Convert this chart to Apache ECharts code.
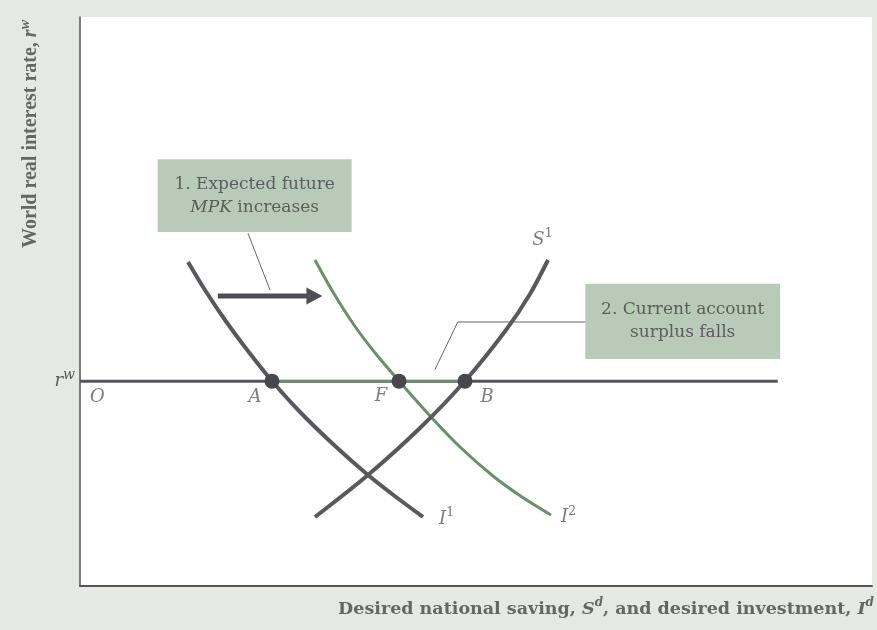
<!DOCTYPE html>
<html>
<head>
<meta charset="utf-8">
<script src="https://cdn.jsdelivr.net/npm/echarts@6/dist/echarts.min.js"></script>
<style>html,body{margin:0;padding:0;background:#e6e8e3;}#c{width:877px;height:630px;}</style>
</head>
<body>
<div id="c"></div>
<script>
// ---- data (abstract units: x 0..100, y 0..100) ----
const rwLevel = 36.0;
const rwLineX = [0, 88.1];
const surplusX = [24.24, 48.61];
const i1X = [13.64, 15.78, 18.31, 21.21, 24.24, 27.78, 32.07, 36.36, 39.90, 43.31];
const i1Y = [56.94, 52.02, 46.75, 41.30, 36.03, 30.58, 24.78, 19.51, 15.64, 12.13];
const i2X = [29.67, 31.94, 34.60, 37.37, 40.28, 44.44, 47.98, 52.15, 55.81, 59.47];
const i2Y = [57.29, 51.67, 45.87, 40.77, 36.03, 29.53, 24.43, 19.33, 15.64, 12.48];
const s1X = [29.67, 36.36, 42.93, 48.61, 53.79, 56.82, 59.09];
const s1Y = [12.13, 19.51, 27.77, 36.03, 44.99, 51.32, 57.29];
const pointNames = ['A', 'F', 'B'];
const pointX = [24.24, 40.28, 48.61];
const letterNames = ['O', 'A', 'F', 'B'];
const letterX = [2.2, 22.1, 38.0, 51.4];
const letterY = [33.2, 33.2, 33.4, 33.2];
const curveLabels = ['S', 'I', 'I'];
const curveSup = ['1', '1', '2'];
const curveLabelX = [58.4, 46.3, 61.7];
const curveLabelY = [60.8, 11.8, 12.0];
const arrowShaftX = [17.4, 28.66];
const arrowHeadX = 29.6;
const arrowY = 50.97;
const leader1X = [21.2, 24.0];
const leader1Y = [62.0, 52.0];
const leader2X = [63.8, 47.7, 44.8];
const leader2Y = [46.4, 46.4, 38.0];
const box1 = [[9.8, 75.0], [34.3, 62.2]];
const box2 = [[63.8, 53.1], [88.4, 39.9]];
const box1Text = ['1. Expected future', 'MPK', ' increases'];
const box2Text = ['2. Current account', 'surplus falls'];
const xTitle = ['Desired national saving, ', 'S', 'd', ', and desired investment, ', 'I', 'd'];
const yTitle = ['World real interest rate, ', 'r', 'w'];

const SERIF = '"DejaVu Serif", "Liberation Serif", serif';
const SERIF2 = '"Liberation Serif", "DejaVu Serif", serif';
const DARK = '#5a585e';
const GREEN = '#6a906a';
const TXT = '#5c5c5c';
const TITLE = '#666666';
const BOXC = '#b9cbb8';

const zip = (xs, ys) => xs.map((x, i) => [x, ys[i]]);

const chart = echarts.init(document.getElementById('c'), null, {renderer: 'canvas'});

const supRich = {
  i: {fontFamily: SERIF, fontStyle: 'italic', fontSize: 18, color: TXT, lineHeight: 26},
  s: {fontFamily: SERIF, fontSize: 13, color: TXT, verticalAlign: 'top', lineHeight: 14}
};

const option = {
  backgroundColor: '#e6e8e3',
  animation: false,
  grid: {left: 80, top: 17, right: 5, bottom: 44, show: true, backgroundColor: '#ffffff', borderWidth: 0},
  xAxis: {
    type: 'value', min: 0, max: 100,
    axisLine: {show: true, lineStyle: {color: '#555', width: 2}},
    axisTick: {show: false}, axisLabel: {show: false}, splitLine: {show: false}
  },
  yAxis: {
    type: 'value', min: 0, max: 100,
    axisLine: {show: true, lineStyle: {color: '#555', width: 1.5}},
    axisTick: {show: false}, splitLine: {show: false},
    axisLabel: {
      show: true, customValues: [rwLevel], margin: 5,
      formatter: () => '{i|r}{s|w}',
      rich: {
        i: {fontFamily: SERIF, fontStyle: 'italic', fontSize: 18, color: TXT, lineHeight: 26},
        s: {fontFamily: SERIF, fontStyle: 'italic', fontSize: 14, color: TXT, verticalAlign: 'top', lineHeight: 14}
      }
    }
  },
  graphic: [
    {
      type: 'text', x: 31, y: 134, rotation: Math.PI / 2,
      style: {
        text: '{b|' + yTitle[0] + '}{i|' + yTitle[1] + '}{s|' + yTitle[2] + '}',
        align: 'center', verticalAlign: 'middle', fill: TITLE,
        rich: {
          b: {fontFamily: SERIF2, fontWeight: 'bold', fontSize: 20, fill: TITLE, lineHeight: 26},
          i: {fontFamily: SERIF2, fontWeight: 'bold', fontStyle: 'italic', fontSize: 20, fill: TITLE, lineHeight: 26},
          s: {fontFamily: SERIF2, fontWeight: 'bold', fontStyle: 'italic', fontSize: 14, fill: TITLE, verticalAlign: 'top', lineHeight: 12}
        }
      }
    },
    {
      type: 'text', right: 3, top: 597,
      style: {
        text: '{b|' + xTitle[0] + '}{i|' + xTitle[1] + '}{s|' + xTitle[2] + '}{b|' + xTitle[3] + '}{i|' + xTitle[4] + '}{s|' + xTitle[5] + '}',
        fill: TITLE,
        rich: {
          b: {fontFamily: SERIF, fontWeight: 'bold', fontSize: 17.5, fill: TITLE, lineHeight: 24},
          i: {fontFamily: SERIF, fontWeight: 'bold', fontStyle: 'italic', fontSize: 17.5, fill: TITLE, lineHeight: 24},
          s: {fontFamily: SERIF, fontWeight: 'bold', fontStyle: 'italic', fontSize: 12, fill: TITLE, verticalAlign: 'top', lineHeight: 12}
        }
      }
    }
  ],
  series: [
    {
      name: 'leaders', type: 'line', data: zip(leader1X, leader1Y), symbol: 'none', z: 2,
      lineStyle: {color: '#666', width: 1},
      markArea: {
        silent: true,
        itemStyle: {color: BOXC},
        label: {
          show: true, position: 'inside',
          formatter: () => '{n|' + box1Text[0] + '}\n{it|' + box1Text[1] + '}{n|' + box1Text[2] + '}',
          rich: {
            n: {fontFamily: SERIF, fontSize: 17, color: TXT, lineHeight: 23},
            it: {fontFamily: SERIF, fontStyle: 'italic', fontSize: 17, color: TXT, lineHeight: 23}
          }
        },
        data: [[{coord: box1[0]}, {coord: box1[1]}]]
      }
    },
    {
      name: 'leader2', type: 'line', data: zip(leader2X, leader2Y), symbol: 'none', z: 2,
      lineStyle: {color: '#666', width: 1},
      markArea: {
        silent: true,
        itemStyle: {color: BOXC},
        label: {
          show: true, position: 'inside',
          formatter: () => '{n|' + box2Text[0] + '}\n{n|' + box2Text[1] + '}',
          rich: {n: {fontFamily: SERIF, fontSize: 17, color: TXT, lineHeight: 23}}
        },
        data: [[{coord: box2[0]}, {coord: box2[1]}]]
      }
    },
    {
      name: 'rw', type: 'line', data: zip(rwLineX, rwLineX.map(() => rwLevel)), symbol: 'none', z: 3,
      lineStyle: {color: '#56525c', width: 3}
    },
    {
      name: 'surplus', type: 'line', data: zip(surplusX, surplusX.map(() => rwLevel)), symbol: 'none', z: 4,
      lineStyle: {color: GREEN, width: 2.5}
    },
    {
      name: 'I1', type: 'line', data: zip(i1X, i1Y), symbol: 'none', smooth: 0.3, z: 5,
      lineStyle: {color: DARK, width: 4}
    },
    {
      name: 'I2', type: 'line', data: zip(i2X, i2Y), symbol: 'none', smooth: 0.3, z: 5,
      lineStyle: {color: GREEN, width: 3}
    },
    {
      name: 'S1', type: 'line', data: zip(s1X, s1Y), symbol: 'none', smooth: 0.3, z: 6,
      lineStyle: {color: DARK, width: 4}
    },
    {
      name: 'arrowShaft', type: 'line', data: zip(arrowShaftX, arrowShaftX.map(() => arrowY)),
      symbol: 'none', z: 6, lineStyle: {color: '#4f4d55', width: 5, cap: 'butt'}
    },
    {
      name: 'arrowHead', type: 'scatter', z: 7, symbol: 'triangle', symbolSize: [17, 16], symbolRotate: -90,
      itemStyle: {color: '#4f4d55', opacity: 1},
      data: [[arrowHeadX, arrowY]]
    },
    {
      name: 'points', type: 'scatter', z: 10, symbolSize: 15,
      itemStyle: {color: '#48474d', opacity: 1},
      data: pointX.map((x, i) => ({name: pointNames[i], value: [x, rwLevel]}))
    },
    {
      name: 'letters', type: 'scatter', z: 11, symbolSize: 1,
      itemStyle: {color: 'rgba(0,0,0,0)'},
      label: {show: true, position: 'inside', formatter: p => p.name,
        fontFamily: SERIF, fontStyle: 'italic', fontSize: 18, color: TXT},
      data: letterNames.map((n, i) => ({name: n, value: [letterX[i], letterY[i]]}))
    },
    {
      name: 'curveLabels', type: 'scatter', z: 11, symbolSize: 1,
      itemStyle: {color: 'rgba(0,0,0,0)'},
      label: {show: true, position: 'inside',
        formatter: p => '{i|' + curveLabels[p.dataIndex] + '}{s|' + curveSup[p.dataIndex] + '}',
        rich: supRich},
      data: curveLabelX.map((x, i) => [x, curveLabelY[i]])
    }
  ]
};
chart.setOption(option);
</script>
</body>
</html>
